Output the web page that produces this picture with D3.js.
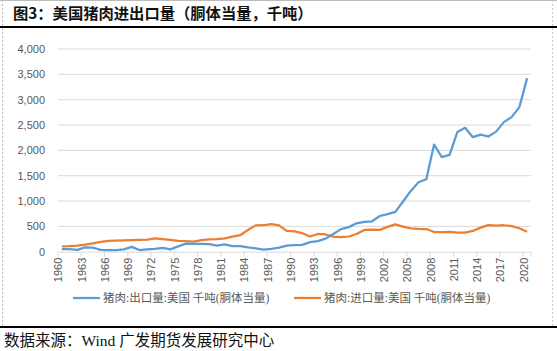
<!DOCTYPE html>
<html><head><meta charset="utf-8">
<script src="https://d3js.org/d3.v7.min.js"></script>
<style>
  body { margin: 0; background: #fff; }
  .tick text { fill: #595959; font-family: "Liberation Sans", "Open Sans", sans-serif; font-size: 11px; }
</style>
</head><body>
<div id="viz"></div>
<script>
// years on the category axis
const years = d3.range(1960, 2021);
const yTicks = [0, 500, 1000, 1500, 2000, 2500, 3000, 3500, 4000];

// 猪肉:出口量:美国 千吨(胴体当量)
const exports = [
  50, 50, 35, 85, 80, 35, 33, 33, 45, 95,
  33, 45, 55, 75, 45, 105, 160, 155, 155, 150,
  120, 145, 110, 110, 85, 65, 40, 55, 80, 120,
  130, 135, 190, 210, 258, 350, 445, 485, 560, 590,
  600, 705, 740, 785, 990, 1200, 1370, 1430, 2115, 1865,
  1910, 2360, 2445, 2260, 2310, 2273, 2370, 2557, 2656, 2853, 3425
];
// 猪肉:进口量:美国 千吨(胴体当量)
const imports = [
  105, 108, 120, 140, 165, 195, 212, 220, 225, 228,
  232, 238, 262, 250, 232, 212, 210, 200, 230, 242,
  250, 264, 297, 325, 430, 520, 522, 545, 520, 410,
  400, 365, 300, 350, 340, 298, 290, 300, 350, 430,
  435, 430, 490, 540, 495, 462, 450, 447, 388, 385,
  392, 378, 378, 410, 475, 525, 514, 522, 505, 462, 395
];

const W = 557, H = 351;
const margin = {top: 49, left: 58, right: 26, bottom: 100};
const width = W - margin.left - margin.right,
      height = 251.7 - margin.top;

const svg = d3.select("#viz").append("svg")
  .attr("width", W).attr("height", H);

// frame lines
svg.append("line").attr("x1", 0).attr("x2", W).attr("y1", 0.5).attr("y2", 0.5)
  .attr("stroke", "#bbb");
svg.append("line").attr("x1", 2.5).attr("x2", 2.5).attr("y1", 0).attr("y2", 327)
  .attr("stroke", "#bbb").attr("stroke-dasharray", "2,2");
svg.append("line").attr("x1", 552.5).attr("x2", 552.5).attr("y1", 0).attr("y2", 327)
  .attr("stroke", "#ccc").attr("stroke-dasharray", "2,2");
svg.append("line").attr("x1", 0).attr("x2", W).attr("y1", 27).attr("y2", 27)
  .attr("stroke", "#000").attr("stroke-width", 2);
svg.append("line").attr("x1", 0).attr("x2", W).attr("y1", 327).attr("y2", 327)
  .attr("stroke", "#000").attr("stroke-width", 2);

svg.append("text")
  .attr("x", 13).attr("y", 19)
  .attr("font-family", "'Noto Sans CJK SC', sans-serif")
  .attr("font-weight", "bold").attr("font-size", 15.3)
  .attr("fill", "#111")
  .text("图3：美国猪肉进出口量（胴体当量，千吨）");

svg.append("text")
  .attr("x", 4).attr("y", 346)
  .attr("font-family", "'Liberation Serif', 'Noto Sans CJK SC', serif")
  .attr("font-size", 15.5)
  .attr("fill", "#111")
  .text("数据来源：Wind 广发期货发展研究中心");

const g = svg.append("g").attr("transform", `translate(${margin.left},${margin.top})`);

const x = d3.scaleBand().domain(years).range([0, width]);
const y = d3.scaleLinear().domain([0, 4000]).range([height, 0]);

// grid
g.append("g").selectAll("line").data(yTicks.slice(1)).join("line")
  .attr("x1", 0).attr("x2", width)
  .attr("y1", d => y(d)).attr("y2", d => y(d))
  .attr("stroke", "#d9d9d9");

// y axis
const ya = g.append("g")
  .call(d3.axisLeft(y).tickValues(yTicks).tickSize(0).tickPadding(13).tickFormat(d3.format(",")));
ya.select(".domain").remove();

// x axis
const xa = g.append("g").attr("transform", `translate(0,${height})`)
  .call(d3.axisBottom(x).tickValues(years.filter(d => (d - 1960) % 3 === 0)).tickSize(0));
xa.select(".domain").attr("stroke", "#d9d9d9");
xa.selectAll("text")
  .attr("transform", "rotate(-90)")
  .attr("text-anchor", "end")
  .attr("dx", "-6px").attr("dy", "-0.5em")
  .attr("x", 0).attr("y", 6);
// tick marks between categories
g.append("g").selectAll("line")
  .data(years.filter(d => (d - 1960) % 3 === 0).concat([2021]))
  .join("line")
  .attr("x1", d => d === 2021 ? width : x(d)).attr("x2", d => d === 2021 ? width : x(d))
  .attr("y1", height).attr("y2", height + 5)
  .attr("stroke", "#d9d9d9");

const line = d3.line()
  .x((d, i) => x(years[i]) + x.bandwidth() / 2)
  .y(d => y(d));

g.append("path").datum(imports)
  .attr("fill", "none").attr("stroke", "#ED7D31").attr("stroke-width", 2.25)
  .attr("stroke-linejoin", "round").attr("d", line);
g.append("path").datum(exports)
  .attr("fill", "none").attr("stroke", "#5B9BD5").attr("stroke-width", 2.25)
  .attr("stroke-linejoin", "round").attr("d", line);

// legend
const legend = [
  {name: "猪肉:出口量:美国 千吨(胴体当量)", color: "#5B9BD5", x: 73},
  {name: "猪肉:进口量:美国 千吨(胴体当量)", color: "#ED7D31", x: 294}
];
const lg = svg.append("g").selectAll("g").data(legend).join("g")
  .attr("transform", d => `translate(${d.x},298)`);
lg.append("line").attr("x1", 0).attr("x2", 27).attr("y1", 0).attr("y2", 0)
  .attr("stroke", d => d.color).attr("stroke-width", 2.25);
lg.append("text").attr("x", 30).attr("y", 4)
  .attr("font-family", "'Liberation Serif', 'Noto Sans CJK SC', serif")
  .attr("font-size", 11.5).attr("fill", "#595959")
  .text(d => d.name);
</script>
</body></html>
